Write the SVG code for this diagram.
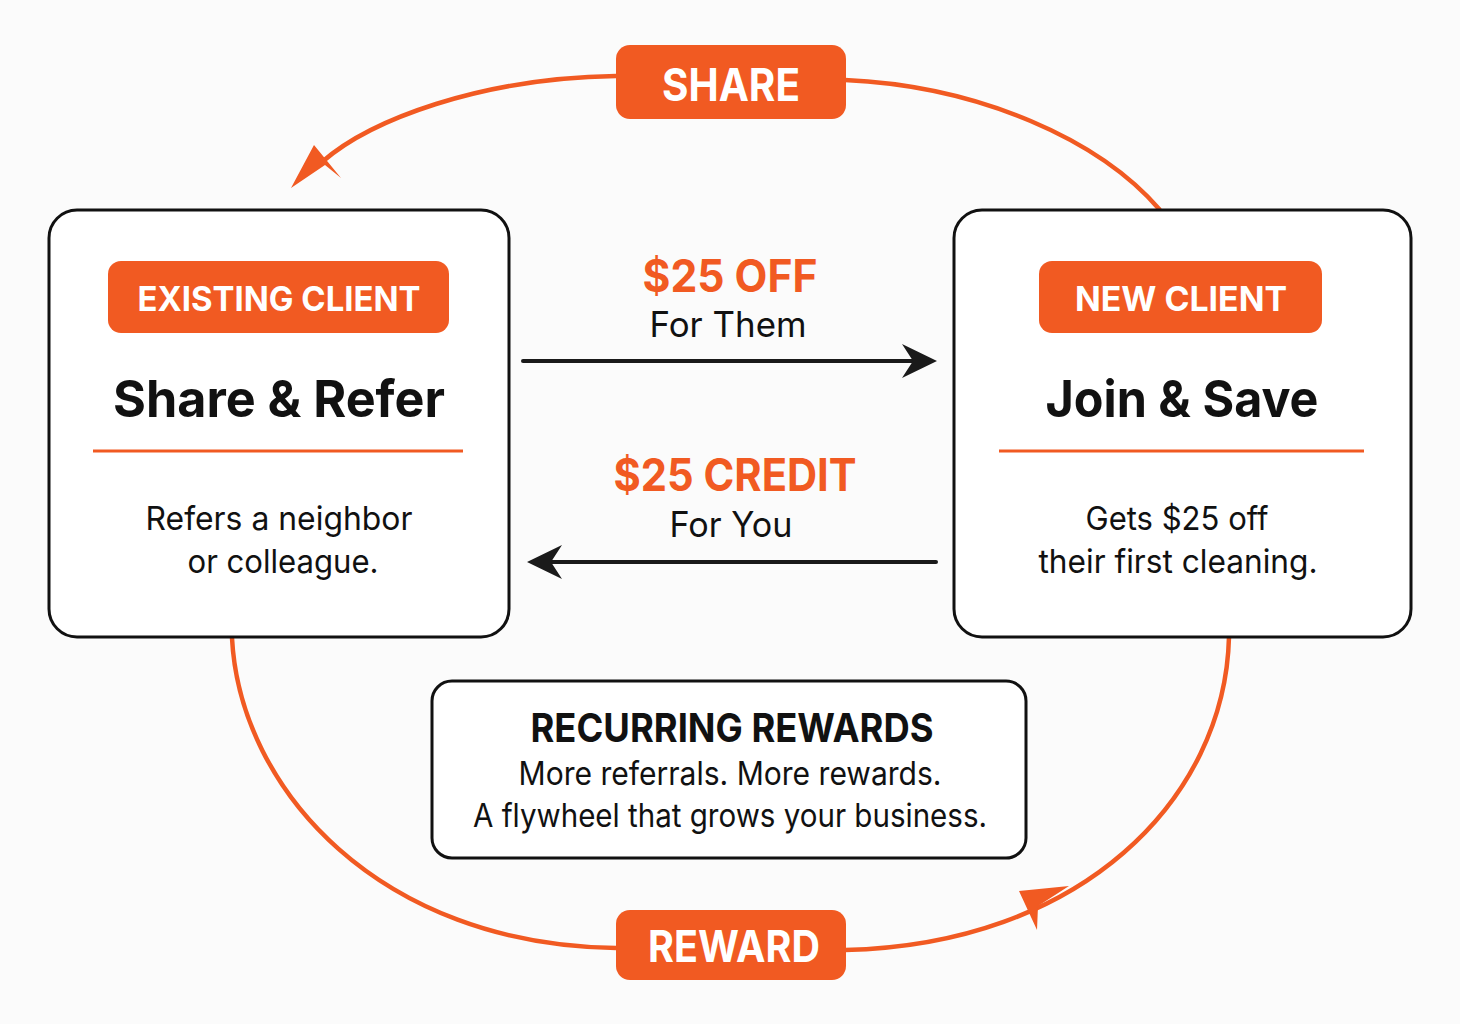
<svg xmlns="http://www.w3.org/2000/svg" width="1460" height="1024" viewBox="0 0 1460 1024">
<style>
.box{fill:#ffffff;stroke:#111111;stroke-width:3}
.badge{fill:#F15A22}
.btxt{font-family:Inter,"Noto Sans","Liberation Sans",sans-serif;font-weight:700;fill:#ffffff;text-anchor:middle}
.title{font-family:Inter,"Noto Sans","Liberation Sans",sans-serif;font-weight:700;fill:#111111;text-anchor:middle}
.body{font-family:Inter,"Noto Sans","Liberation Sans",sans-serif;font-weight:400;fill:#111111;text-anchor:middle}
.otxt{font-family:Inter,"Noto Sans","Liberation Sans",sans-serif;font-weight:700;fill:#F15A22;text-anchor:middle}
.sep{stroke:#F15A22;stroke-width:3}
.loop{fill:none;stroke:#F15A22;stroke-width:4.5}
.flow{fill:none;stroke:#1a1a1a;stroke-width:4;stroke-linecap:round}
</style>
<rect x="0" y="0" width="1460" height="1024" fill="#fbfbfb"/>
<g id="connectors">
  <path class="loop" d="M616,76 C480,78 370,120 322,162"/>
  <polygon fill="#F15A22" points="291,188 314,145 341,178 325,165"/>
  <path class="loop" d="M845,80 C980,86 1100,140 1160,210"/>
  <path class="loop" d="M232,638 C240,790 380,945 616,948"/>
  <path class="loop" d="M845,950 C1080,945 1225,800 1229,637"/>
  <polygon fill="#F15A22" points="1069,886 1019,891 1037,930 1038,906"/>
  <line class="flow" x1="523" y1="361" x2="915" y2="361"/>
  <polygon fill="#1a1a1a" points="937,361 902,344 913,361 902,378"/>
  <line class="flow" x1="936" y1="562" x2="550" y2="562"/>
  <polygon fill="#1a1a1a" points="527,562 562,545 551,562 562,579"/>
  <text class="otxt" x="730" y="292" font-size="45" textLength="175" lengthAdjust="spacingAndGlyphs">$25 OFF</text>
  <text class="body" x="728" y="337" font-size="35" textLength="157" lengthAdjust="spacingAndGlyphs">For Them</text>
  <text class="otxt" x="735" y="491" font-size="45" textLength="243" lengthAdjust="spacingAndGlyphs">$25 CREDIT</text>
  <text class="body" x="731" y="537" font-size="35" textLength="123" lengthAdjust="spacingAndGlyphs">For You</text>
</g>
<g id="share">
  <rect class="badge" x="616" y="45" width="230" height="74" rx="14"/>
  <text class="btxt" x="731" y="101" font-size="45" textLength="138" lengthAdjust="spacingAndGlyphs">SHARE</text>
</g>
<g id="reward">
  <rect class="badge" x="616" y="910" width="230" height="70" rx="14"/>
  <text class="btxt" x="734" y="962" font-size="44" textLength="172" lengthAdjust="spacingAndGlyphs">REWARD</text>
</g>
<g id="existing-client">
  <rect class="box" x="49" y="210" width="460" height="427" rx="28"/>
  <rect class="badge" x="108" y="261" width="341" height="72" rx="13"/>
  <text class="btxt" x="279" y="311" font-size="34" textLength="283" lengthAdjust="spacingAndGlyphs">EXISTING CLIENT</text>
  <text class="title" x="279" y="417" font-size="51" textLength="332" lengthAdjust="spacingAndGlyphs">Share &amp; Refer</text>
  <line class="sep" x1="93" y1="451" x2="463" y2="451"/>
  <text class="body" x="279" y="530" font-size="33" textLength="267" lengthAdjust="spacingAndGlyphs">Refers a neighbor</text>
  <text class="body" x="283" y="573" font-size="33" textLength="191" lengthAdjust="spacingAndGlyphs">or colleague.</text>
</g>
<g id="new-client">
  <rect class="box" x="954" y="210" width="457" height="427" rx="28"/>
  <rect class="badge" x="1039" y="261" width="283" height="72" rx="13"/>
  <text class="btxt" x="1181" y="311" font-size="34" textLength="212" lengthAdjust="spacingAndGlyphs">NEW CLIENT</text>
  <text class="title" x="1182" y="417" font-size="51" textLength="273" lengthAdjust="spacingAndGlyphs">Join &amp; Save</text>
  <line class="sep" x1="999" y1="451" x2="1364" y2="451"/>
  <text class="body" x="1177" y="530" font-size="33" textLength="183" lengthAdjust="spacingAndGlyphs">Gets $25 off</text>
  <text class="body" x="1178" y="573" font-size="33" textLength="279" lengthAdjust="spacingAndGlyphs">their first cleaning.</text>
</g>
<g id="recurring-rewards">
  <rect class="box" x="432" y="681" width="594" height="177" rx="20" stroke-width="2.5"/>
  <text class="title" x="732" y="742" font-size="40" textLength="403" lengthAdjust="spacingAndGlyphs">RECURRING REWARDS</text>
  <text class="body" x="730" y="785" font-size="32" textLength="423" lengthAdjust="spacingAndGlyphs">More referrals. More rewards.</text>
  <text class="body" x="730" y="827" font-size="32" textLength="514" lengthAdjust="spacingAndGlyphs">A flywheel that grows your business.</text>
</g>
</svg>
